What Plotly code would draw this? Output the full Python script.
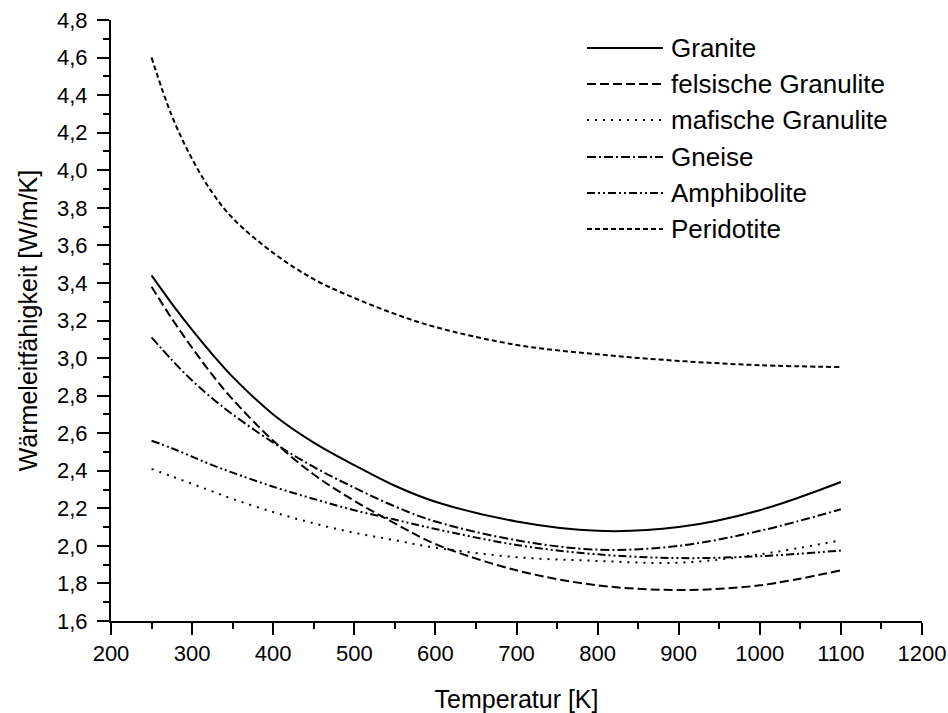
import plotly.graph_objects as go

# ---- data ----
temperature = [250, 275, 300, 325, 350, 400, 450, 500, 550, 600, 700, 800, 900, 1000, 1100]

granite = [3.44, 3.29, 3.15, 3.02, 2.90, 2.70, 2.55, 2.43, 2.32, 2.235, 2.13, 2.08, 2.10, 2.19, 2.34]
felsic_granulite = [3.38, 3.21, 3.055, 2.91, 2.78, 2.56, 2.38, 2.24, 2.12, 2.01, 1.87, 1.79, 1.765, 1.79, 1.87]
mafic_granulite = [2.41, 2.37, 2.33, 2.29, 2.25, 2.18, 2.12, 2.07, 2.03, 1.99, 1.94, 1.92, 1.91, 1.955, 2.03]
gneise = [3.11, 2.99, 2.88, 2.785, 2.70, 2.55, 2.42, 2.31, 2.21, 2.13, 2.03, 1.98, 2.00, 2.08, 2.195]
amphibolite = [2.56, 2.52, 2.475, 2.43, 2.39, 2.315, 2.25, 2.19, 2.14, 2.09, 2.005, 1.955, 1.935, 1.945, 1.975]
peridotite = [4.60, 4.29, 4.06, 3.88, 3.745, 3.56, 3.42, 3.32, 3.235, 3.165, 3.07, 3.02, 2.985, 2.962, 2.952]

series_names = ["Granite", "felsische Granulite", "mafische Granulite", "Gneise", "Amphibolite", "Peridotite"]
series_values = [granite, felsic_granulite, mafic_granulite, gneise, amphibolite, peridotite]
series_dash = ["solid", "9px,4px", "2px,6px", "9px,3px,2px,3px", "8px,3px,2px,3px,2px,3px", "5px,3px"]

x_range = [200, 1200]
y_range = [1.6, 4.8]

FONT = "Liberation Sans, Arial, Helvetica, sans-serif"

fig = go.Figure()
for name, vals, dash in zip(series_names, series_values, series_dash):
    fig.add_trace(go.Scatter(
        x=temperature, y=vals, name=name, mode="lines",
        line=dict(color="black", width=2, dash=dash, shape="spline", smoothing=1.0),
        showlegend=False,
    ))

# hand-drawn legend (long sample lines like the original)
legend_y_px = [48, 84, 120, 157, 193, 229]
plot_top, plot_bottom, plot_left, plot_right = 20, 621, 111, 922
def px_to_paper_x(px):
    return (px - plot_left) / (plot_right - plot_left)
def px_to_paper_y(py):
    return (plot_bottom - py) / (plot_bottom - plot_top)

shapes = []
annotations = []
for name, dash, ly in zip(series_names, series_dash, legend_y_px):
    yp = px_to_paper_y(ly)
    shapes.append(dict(type="line", xref="paper", yref="paper",
                       x0=px_to_paper_x(587), x1=px_to_paper_x(663), y0=yp, y1=yp,
                       line=dict(color="black", width=2, dash=dash)))
    annotations.append(dict(xref="paper", yref="paper", x=px_to_paper_x(669), y=yp,
                            text=name, showarrow=False, xanchor="left", yanchor="middle",
                            font=dict(family=FONT, size=26, color="black")))

fig.update_layout(
    width=948, height=713,
    margin=dict(l=111, r=26, t=20, b=92),
    plot_bgcolor="white", paper_bgcolor="white",
    separators=", ",
    showlegend=False,
    font=dict(family=FONT, color="black"),
    shapes=shapes, annotations=annotations,
)

fig.update_xaxes(
    range=x_range, tick0=200, dtick=100, automargin=False,
    ticks="outside", ticklen=12, tickwidth=1.5, tickcolor="black",
    minor=dict(dtick=50, ticks="outside", ticklen=6, tickwidth=1.5, tickcolor="black"),
    showline=True, linecolor="black", linewidth=2,
    showgrid=False, zeroline=False,
    tickfont=dict(family=FONT, size=22, color="black"),
    title=dict(text="Temperatur [K]", font=dict(family=FONT, size=25, color="black"), standoff=25),
)
fig.update_yaxes(
    range=y_range, tick0=1.6, dtick=0.2, tickformat=".1f", automargin=False,
    ticks="outside", ticklen=12, tickwidth=1.5, tickcolor="black",
    minor=dict(dtick=0.1, ticks="outside", ticklen=6, tickwidth=1.5, tickcolor="black"),
    showline=True, linecolor="black", linewidth=2,
    showgrid=False, zeroline=False, ticklabelstandoff=5,
    tickfont=dict(family=FONT, size=22, color="black"),
    title=dict(text="Wärmeleitfähigkeit [W/m/K]", font=dict(family=FONT, size=25, color="black"), standoff=12),
)

fig.write_html("out.html", config={"displayModeBar": False},
               post_script="document.body.style.margin='0px';")
